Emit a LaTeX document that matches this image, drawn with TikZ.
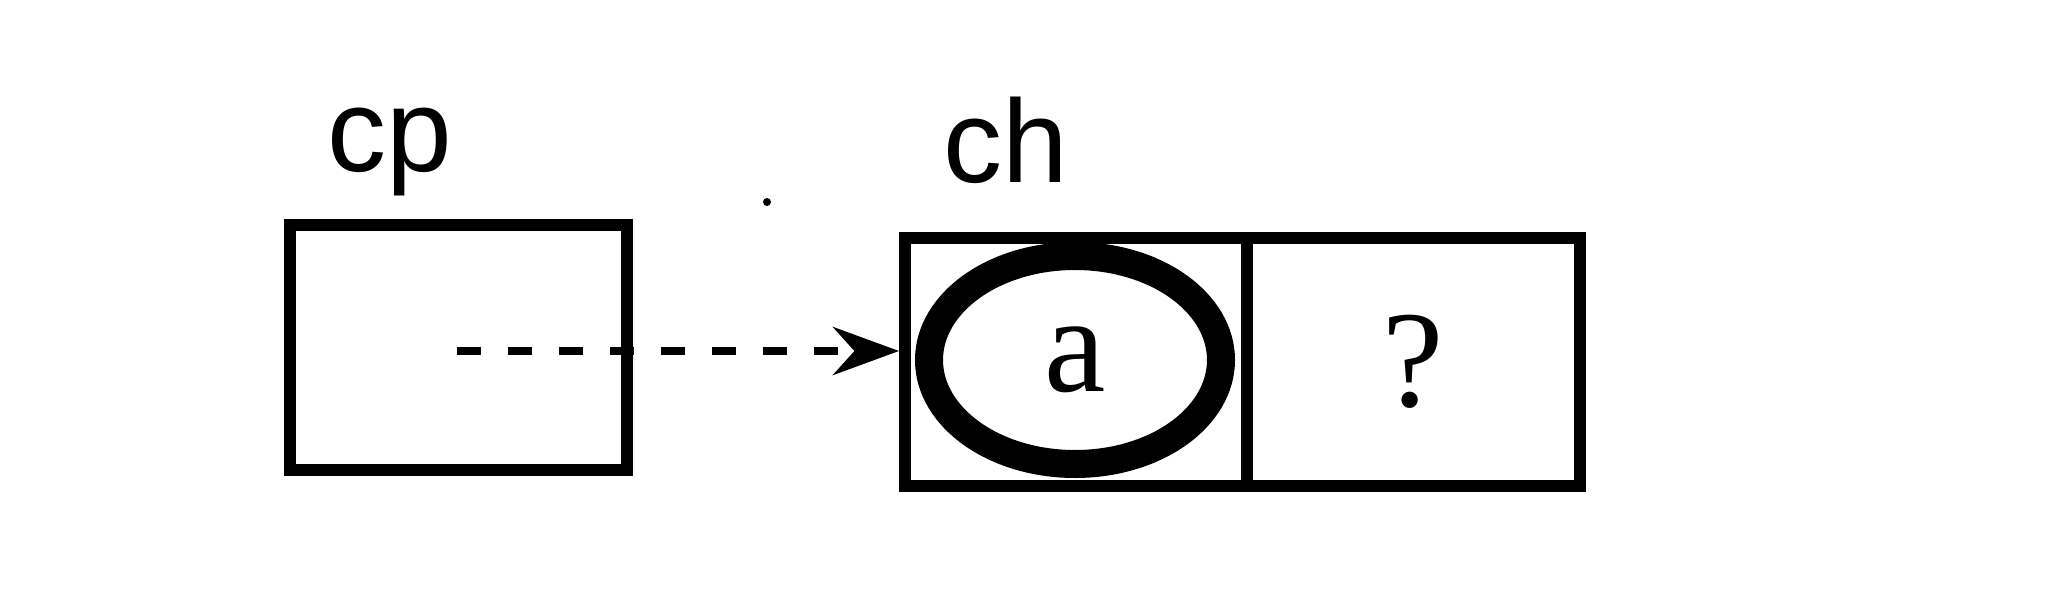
\documentclass[tikz,border=0pt]{standalone}
\usepackage{fontspec}
\setmainfont{Liberation Serif}
\newfontfamily\lblsans{Liberation Sans}
\usetikzlibrary{shapes.geometric,arrows.meta}
\tikzset{
  cell/.style={draw, line width=12pt, minimum width=#1, minimum height=248pt, inner sep=0pt, anchor=center},
  ring/.style={draw, ellipse, line width=28pt, minimum width=292pt, minimum height=208pt, inner sep=0pt},
  sanslbl/.style={anchor=base, inner sep=0pt, font=\lblsans\fontsize{118}{130}\selectfont},
  seriftxt/.style={inner sep=0pt, font=\fontsize{138}{150}\selectfont},
  ptr/.style={line width=8pt, dash pattern=on 24pt off 27pt, -{Stealth[length=66pt, width=48pt]}}
}
\begin{document}
\begin{tikzpicture}[x=1pt, y=-1pt]
  \useasboundingbox (0,0) rectangle (2048,594);
  % left box cp
  \node[cell=337pt, minimum height=245pt] (cpbox) at (458.5,347.5) {};
  \node[sanslbl] (cplbl) at (390,171) {cp};
  % right box ch
  \node[cell=342pt] (chl) at (1076,362) {};
  \node[cell=333pt, seriftxt] (chr) at (1413.5,362) {?};
  \node[ring, seriftxt] (ea) at (1075,360) {a};
  \node[sanslbl] (chlbl) at (1006,182) {ch};
  % stray dot
  \fill (767,202) circle (4pt);
  % dashed pointer
  \coordinate (pstart) at (457,351);
  \draw[ptr] (pstart) -- (chl.west |- pstart);
\end{tikzpicture}
\end{document}
